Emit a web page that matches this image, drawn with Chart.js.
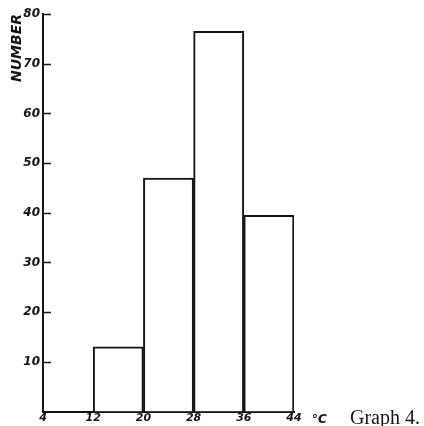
<!DOCTYPE html>
<html>
<head>
<meta charset="utf-8">
<script src="https://cdn.jsdelivr.net/npm/chart.js@4"></script>
<style>
  html, body { margin: 0; padding: 0; background: #fff; }
  #wrap { width: 424px; height: 426px; position: relative; }
</style>
</head>
<body>
<div id="wrap"><canvas id="graph4"></canvas></div>
<script>
// histogram: temperature bins (°C) and counts
const binEdges = [4, 12, 20, 28, 36, 44];
const binMids = [16, 24, 32, 40];
const counts = [13, 47, 76.5, 39.5];
const yMax = 80;
const yStep = 10;

const INK = '#141414';
const HAND = "italic bold 12px 'DejaVu Sans', sans-serif";

// short tick marks pointing into the plot, "°C" and the caption
const extrasPlugin = {
    id: 'extras',
    afterDraw(chart) {
        const { ctx } = chart;
        const x = chart.scales.x;
        const y = chart.scales.y;
        ctx.save();
        ctx.strokeStyle = INK;
        ctx.lineWidth = 1.5;
        y.ticks.forEach(t => {
            if (t.value === 0) return;
            const py = Math.round(y.getPixelForValue(t.value)) + 0.5;
            ctx.beginPath();
            ctx.moveTo(y.right, py);
            ctx.lineTo(y.right + 8, py);
            ctx.stroke();
        });
        const yPix = x.top + 8;
        ctx.fillStyle = INK;
        ctx.textBaseline = 'middle';
        ctx.font = HAND;
        ctx.fillText('°C', x.right + 18, yPix);
        ctx.font = "20px 'Liberation Serif', serif";
        ctx.fillText('Graph 4.', 350, yPix - 1);
        ctx.restore();
    }
};

new Chart(document.getElementById('graph4'), {
    type: 'bar',
    data: {
        datasets: [{
            data: binMids.map((m, i) => ({ x: m, y: counts[i] })),
            backgroundColor: '#fff',
            borderColor: INK,
            borderWidth: 2,
            barPercentage: 1,
            categoryPercentage: 1
        }]
    },
    options: {
        responsive: true,
        maintainAspectRatio: false,
        animation: false,
        layout: { padding: { top: 14, right: 130, bottom: 0, left: 0 } },
        plugins: {
            legend: { display: false },
            tooltip: { enabled: false }
        },
        scales: {
            x: {
                type: 'linear',
                offset: false,
                min: binEdges[0],
                max: binEdges[binEdges.length - 1],
                afterBuildTicks: (s) => { s.ticks = binEdges.map(v => ({ value: v })); },
                afterFit: (s) => { s.height = 14.5; },
                grid: { display: false, drawTicks: false },
                border: { display: true, color: INK, width: 2 },
                ticks: {
                    color: INK,
                    padding: 0,
                    maxRotation: 0,
                    autoSkip: false,
                    font: { family: "'DejaVu Sans', sans-serif", size: 11, style: 'italic', weight: 'bold' }
                }
            },
            y: {
                min: 0,
                max: yMax,
                afterFit: (s) => { s.width = 43; },
                grid: { display: false, drawTicks: false },
                border: { display: true, color: INK, width: 2 },
                ticks: {
                    stepSize: yStep,
                    color: INK,
                    padding: 3,
                    callback: (v) => v === 0 ? '' : v,
                    font: { family: "'DejaVu Sans', sans-serif", size: 12, style: 'italic', weight: 'bold' }
                },
                title: {
                    display: true,
                    text: 'NUMBER',
                    align: 'end',
                    color: INK,
                    padding: { top: 9, bottom: 0 },
                    font: { family: "'DejaVu Sans', sans-serif", size: 14, style: 'italic', weight: 'bold' }
                }
            }
        }
    },
    plugins: [extrasPlugin]
});
</script>
</body>
</html>
